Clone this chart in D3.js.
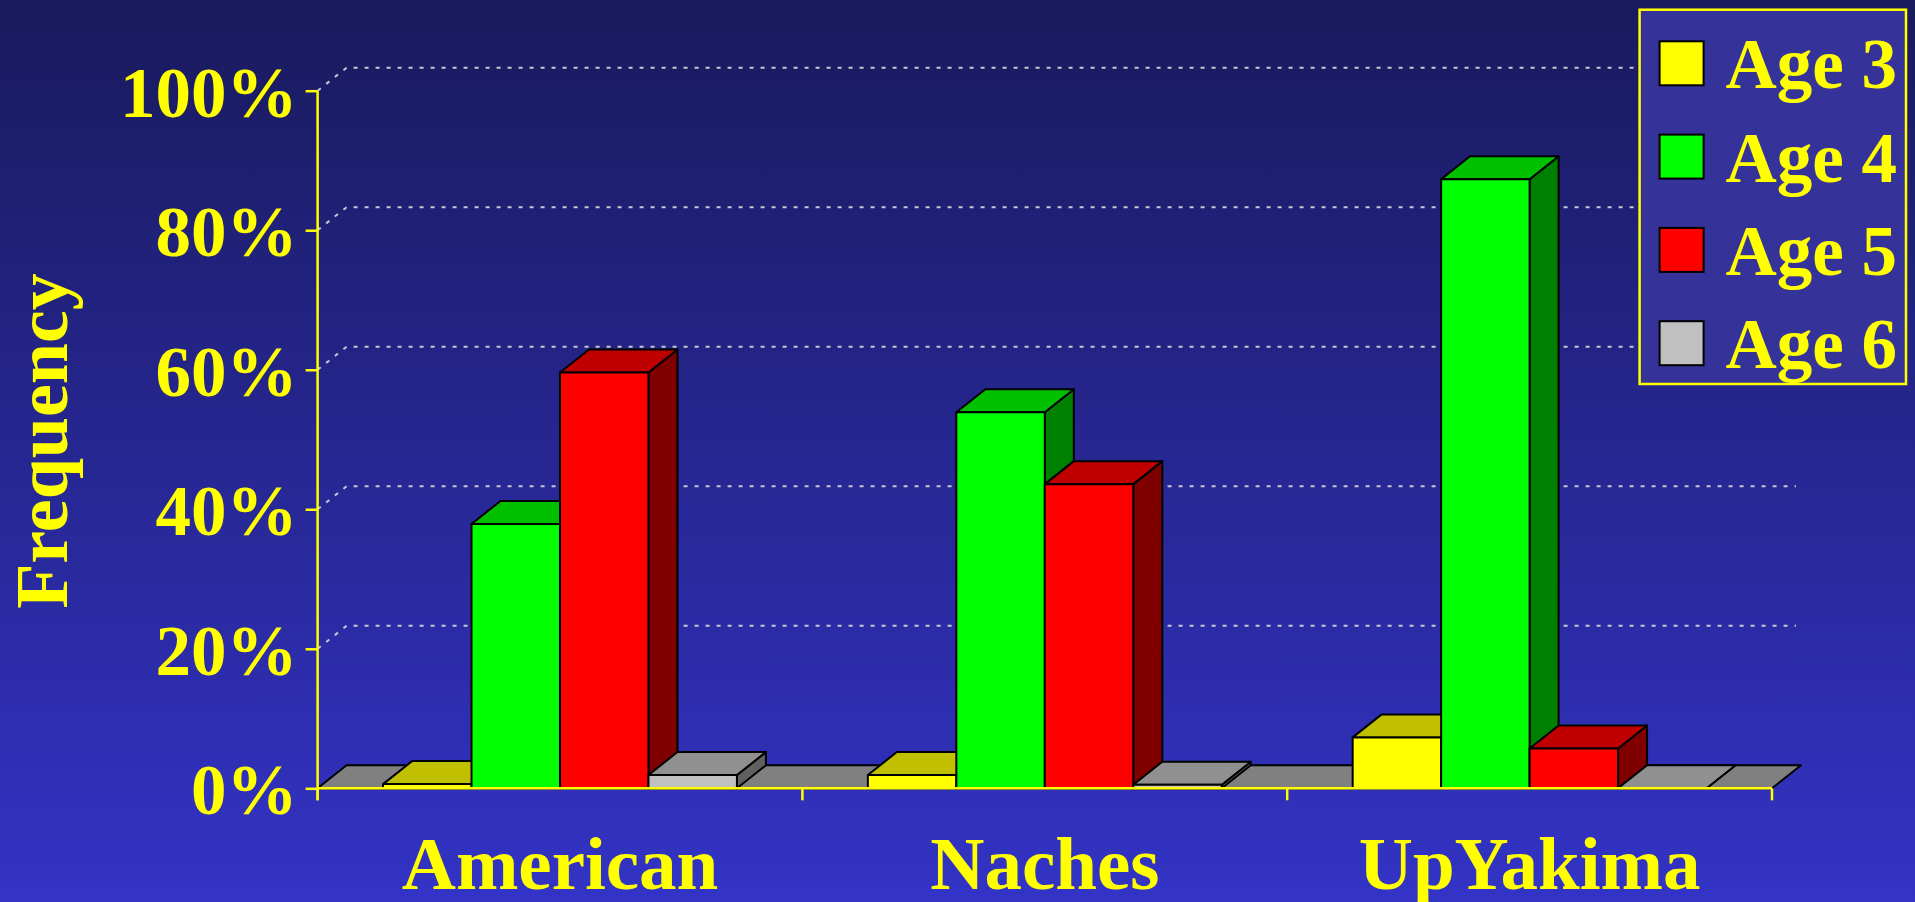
<!DOCTYPE html>
<html>
<head>
<meta charset="utf-8">
<script src="https://cdn.jsdelivr.net/npm/d3@7"></script>
<style>
  html, body { margin: 0; padding: 0; overflow: hidden; background: #23238a; }
  svg { display: block; }
</style>
</head>
<body>
<svg id="chart" width="1915" height="902"></svg>
<script>
// Age composition by stream (percent of sample)
const categories = ["American", "Naches", "UpYakima"];
const series = ["Age 3", "Age 4", "Age 5", "Age 6"];
const age3 = [0.6, 1.9, 7.3];
const age4 = [37.9, 53.9, 87.3];
const age5 = [59.6, 43.6, 5.7];
const age6 = [1.9, 0.5, 0];
const yTicks = [0, 20, 40, 60, 80, 100];
const yTitle = "Frequency";

const seriesValues = [age3, age4, age5, age6];

// face colours: front, top, side
const palette = {
  "Age 3": ["#ffff00", "#c0c000", "#808000"],
  "Age 4": ["#00ff00", "#00c000", "#008000"],
  "Age 5": ["#ff0000", "#c00000", "#800000"],
  "Age 6": ["#c0c0c0", "#909090", "#606060"]
};

const W = 1915, H = 902;
const svg = d3.select("#chart");
const TEXT = "#ffff00";
const FONT = "'Liberation Serif', 'Times New Roman', Times, serif";

// background gradient
const defs = svg.append("defs");
const grad = defs.append("linearGradient")
  .attr("id", "bg").attr("x1", 0).attr("y1", 0).attr("x2", 0).attr("y2", 1);
grad.append("stop").attr("offset", "0%").attr("stop-color", "#191a5c");
grad.append("stop").attr("offset", "100%").attr("stop-color", "#3333c6");
svg.append("rect").attr("width", W).attr("height", H).attr("fill", "url(#bg)");

// plot geometry
const plotLeft = 317.6, plotRight = 1772, plotBase = 788.3, plotTop = 90.7;
const depthX = 29, depthY = -23;

const y = d3.scaleLinear().domain([0, 100]).range([plotBase, plotTop]);
const x0 = d3.scaleBand().domain(categories).range([plotLeft, plotRight]).paddingInner(0).paddingOuter(0);
const x1 = d3.scaleBand().domain(series).range([0, x0.bandwidth()]).paddingInner(0).paddingOuter(0.74);

// dotted gridlines on the back wall
const grid = svg.append("g");
yTicks.filter(t => t > 0).forEach(t => {
  const yy = y(t);
  grid.append("path")
    .attr("d", d3.line()([[plotLeft, yy], [plotLeft + depthX, yy + depthY], [plotRight + 24, yy + depthY]]))
    .attr("fill", "none")
    .attr("stroke", "#c8c8d4")
    .attr("stroke-width", 2)
    .attr("stroke-dasharray", "4,7");
});

// floor
svg.append("path")
  .attr("d", d3.line()([[plotLeft, plotBase], [plotLeft + depthX, plotBase + depthY], [plotRight + depthX, plotBase + depthY], [plotRight, plotBase]]) + "Z")
  .attr("fill", "#808080")
  .attr("stroke", "#000")
  .attr("stroke-width", 2)
  .attr("stroke-linejoin", "round");

// 3D bars, drawn left to right so each bar covers the side of the one before it
const bars = svg.append("g");
const records = [];
categories.forEach((c, ci) => {
  series.forEach((s, si) => {
    records.push({ cat: c, key: s, value: seriesValues[si][ci] });
  });
});

records.forEach(d => {
  const x = x0(d.cat) + x1(d.key);
  const w = x1.bandwidth();
  const yt = y(d.value);
  const [cFront, cTop, cSide] = palette[d.key];
  const g = bars.append("g")
    .attr("stroke", "#000")
    .attr("stroke-width", 2)
    .attr("stroke-linejoin", "round");
  // side face
  g.append("path")
    .attr("d", d3.line()([[x + w, plotBase], [x + w, yt], [x + w + depthX, yt + depthY], [x + w + depthX, plotBase + depthY]]) + "Z")
    .attr("fill", cSide);
  // top face
  g.append("path")
    .attr("d", d3.line()([[x, yt], [x + depthX, yt + depthY], [x + w + depthX, yt + depthY], [x + w, yt]]) + "Z")
    .attr("fill", cTop);
  // front face
  if (plotBase - yt > 0.5) {
    g.append("rect")
      .attr("x", x).attr("y", yt)
      .attr("width", w).attr("height", plotBase - yt)
      .attr("fill", cFront);
  }
});

// y axis
const yAxis = d3.axisLeft(y)
  .tickValues(yTicks)
  .tickSize(12)
  .tickPadding(8)
  .tickFormat(d => d + "%");
const gy = svg.append("g").attr("transform", `translate(${plotLeft},0)`).call(yAxis);
gy.select(".domain").remove();
gy.selectAll(".tick line").attr("stroke", TEXT).attr("stroke-width", 2.5);
gy.selectAll(".tick text")
  .attr("fill", TEXT)
  .attr("font-family", FONT)
  .attr("font-weight", "bold")
  .attr("font-size", 71)
  .attr("dy", "0.36em");
svg.append("line")
  .attr("x1", plotLeft).attr("x2", plotLeft)
  .attr("y1", plotTop).attr("y2", plotBase + 12)
  .attr("stroke", TEXT).attr("stroke-width", 2.5);

// x axis
svg.append("line")
  .attr("x1", plotLeft).attr("x2", plotRight)
  .attr("y1", plotBase).attr("y2", plotBase)
  .attr("stroke", TEXT).attr("stroke-width", 2.5);
const boundaries = categories.map(c => x0(c)).concat([plotRight]);
svg.append("g").selectAll("line").data(boundaries).join("line")
  .attr("x1", d => d).attr("x2", d => d)
  .attr("y1", plotBase).attr("y2", plotBase + 12)
  .attr("stroke", TEXT).attr("stroke-width", 2.5);
svg.append("g").selectAll("text").data(categories).join("text")
  .attr("x", d => x0(d) + x0.bandwidth() / 2)
  .attr("y", 889)
  .attr("text-anchor", "middle")
  .attr("fill", TEXT)
  .attr("font-family", FONT)
  .attr("font-weight", "bold")
  .attr("font-size", 75)
  .text(d => d);

// y axis title
svg.append("text")
  .attr("transform", "translate(67,441) rotate(-90)")
  .attr("text-anchor", "middle")
  .attr("fill", TEXT)
  .attr("font-family", FONT)
  .attr("font-weight", "bold")
  .attr("font-size", 74)
  .text(yTitle);

// legend
const legend = svg.append("g");
legend.append("rect")
  .attr("x", 1639.6).attr("y", 9.7)
  .attr("width", 266.4).attr("height", 374.3)
  .attr("fill", "#353399")
  .attr("stroke", TEXT).attr("stroke-width", 2.5);
const items = legend.selectAll("g.item").data(series).join("g")
  .attr("class", "item")
  .attr("transform", (d, i) => `translate(0,${i * 93.3})`);
items.append("rect")
  .attr("x", 1659.6).attr("y", 41.3)
  .attr("width", 44).attr("height", 44)
  .attr("fill", d => palette[d][0])
  .attr("stroke", "#000").attr("stroke-width", 2);
items.append("text")
  .attr("x", 1725.5).attr("y", 88.3)
  .attr("fill", TEXT)
  .attr("font-family", FONT)
  .attr("font-weight", "bold")
  .attr("font-size", 71)
  .text(d => d);
</script>
</body>
</html>
